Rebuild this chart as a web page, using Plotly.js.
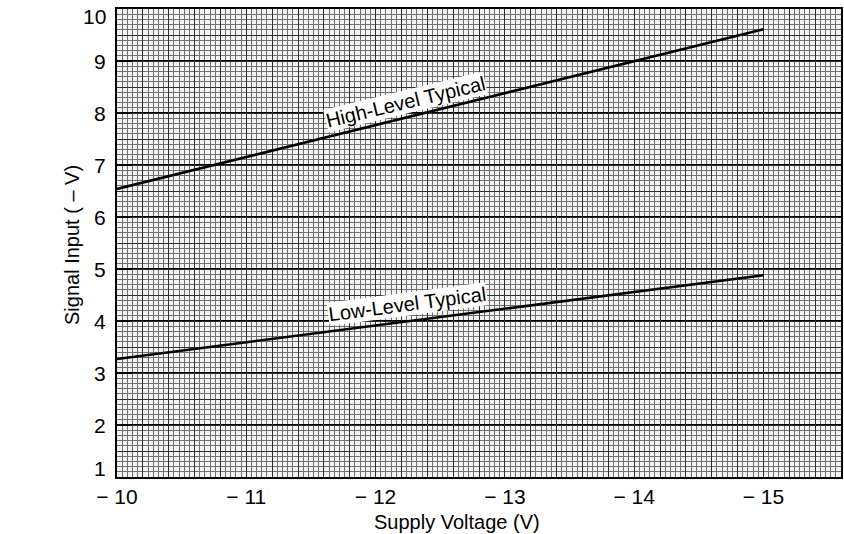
<!DOCTYPE html>
<html>
<head>
<meta charset="utf-8">
<script src="https://cdn.plot.ly/plotly-3.0.1.min.js"></script>
<style>html,body{margin:0;padding:0;background:#fff;}#chart{width:844px;height:534px;}</style>
</head>
<body>
<div id="chart"></div>
<script>
// Data
const supplyVoltage = [-10, -15];
const highLevelTypical = [6.54, 9.61];
const lowLevelTypical = [3.27, 4.88];

const xTickVals = [-10, -11, -12, -13, -14, -15];
const xTickText = ['\u2212 10', '\u2212 11', '\u2212 12', '\u2212 13', '\u2212 14', '\u2212 15'];
const yTickVals = [1, 2, 3, 4, 5, 6, 7, 8, 9, 10];
const yTickText = ['1', '2', '3', '4', '5', '6', '7', '8', '9', '10'];

const seriesLabels = ['High-Level Typical', 'Low-Level Typical'];

const FONT = 'Liberation Sans, Arial, Helvetica, sans-serif';
const xRange = [-10, -15.6];
const yRange = [1, 10];

const traces = [
  {x: supplyVoltage, y: highLevelTypical, mode: 'lines', name: seriesLabels[0],
   line: {color: '#000', width: 2.6}, xaxis: 'x', yaxis: 'y', hoverinfo: 'skip'},
  {x: supplyVoltage, y: lowLevelTypical, mode: 'lines', name: seriesLabels[1],
   line: {color: '#000', width: 2.6}, xaxis: 'x2', yaxis: 'y2', hoverinfo: 'skip'}
];

// inner y tick labels (2..9) on the axis; the end labels (1, 10) sit slightly inward as in the print
const innerY = yTickVals.slice(1, -1);
const innerYText = yTickText.slice(1, -1);

const plotW = 844 - 117 - 3, plotH = 534 - 9 - 57;

const layout = {
  width: 844, height: 534,
  margin: {l: 117, r: 3, t: 9, b: 57},
  paper_bgcolor: '#ffffff',
  plot_bgcolor: '#f2f2f2',
  showlegend: false,
  font: {family: FONT, color: '#000'},
  xaxis: {
    range: xRange, tickvals: xTickVals, ticktext: xTickText,
    tickfont: {family: FONT, size: 21, color: '#000'},
    showgrid: true, gridcolor: '#000', gridwidth: 1.2,
    showline: true, mirror: true, linecolor: '#000', linewidth: 2,
    zeroline: false, ticks: '', fixedrange: true
  },
  yaxis: {
    range: yRange, tickvals: yTickVals, ticktext: yTickVals.map(() => ''),
    tickfont: {family: FONT, size: 21, color: '#000'},
    showgrid: true, gridcolor: '#000', gridwidth: 1.2,
    showline: true, mirror: true, linecolor: '#000', linewidth: 2,
    zeroline: false, ticks: 'inside', ticklen: 15, tickwidth: 2, tickcolor: '#000',
    fixedrange: true
  },
  xaxis2: {
    overlaying: 'x', anchor: 'y2', range: xRange,
    tick0: -10, dtick: 0.2, showticklabels: false, ticks: '',
    showgrid: true, gridcolor: '#2e2e2e', gridwidth: 1,
    minor: {tick0: -10, dtick: 0.04, showgrid: true, gridcolor: '#707070', gridwidth: 1, ticks: ''},
    zeroline: false, showline: false, fixedrange: true
  },
  yaxis2: {
    overlaying: 'y', anchor: 'x2', range: yRange,
    tick0: 1, dtick: 0.5, showticklabels: false, ticks: '',
    showgrid: true, gridcolor: '#2e2e2e', gridwidth: 1,
    minor: {tick0: 1, dtick: 0.1, showgrid: true, gridcolor: '#707070', gridwidth: 1, ticks: ''},
    zeroline: false, showline: false, fixedrange: true
  },
  annotations: [
    {text: seriesLabels[0], xref: 'x', yref: 'y', x: -12.23, y: 8.22, showarrow: false,
     textangle: -13.5, bgcolor: '#ffffff', borderpad: 0,
     font: {family: FONT, size: 20, color: '#000'}},
    {text: seriesLabels[1], xref: 'x', yref: 'y', x: -12.25, y: 4.33, showarrow: false,
     textangle: -7.5, bgcolor: '#ffffff', borderpad: 0,
     font: {family: FONT, size: 20, color: '#000'}},
    {text: 'Supply Voltage (V)', xref: 'paper', yref: 'paper',
     x: (457 - 117) / plotW, y: -(522 - 477) / plotH, xanchor: 'center', yanchor: 'middle',
     showarrow: false, font: {family: FONT, size: 20, color: '#000'}},
    {text: 'Signal Input ( \u2013 V)', xref: 'paper', yref: 'paper',
     x: -(117 - 72) / plotW, y: (477 - 245) / plotH, xanchor: 'center', yanchor: 'middle',
     showarrow: false, textangle: -90, font: {family: FONT, size: 20, color: '#000'}}
  ]
};

// y tick labels 2..9, right-aligned next to the axis
innerY.forEach((v, i) => {
  layout.annotations.push({text: innerYText[i], xref: 'paper', yref: 'y', x: -(117 - 108) / plotW, y: v,
    xanchor: 'right', yanchor: 'middle', showarrow: false, font: {family: FONT, size: 21, color: '#000'}});
});
// end labels, shifted inward like the printed chart
layout.annotations.push({text: yTickText[yTickText.length - 1], xref: 'paper', yref: 'y',
  x: -(117 - 108) / plotW, y: yTickVals[yTickVals.length - 1], yshift: -7,
  xanchor: 'right', yanchor: 'middle', showarrow: false, font: {family: FONT, size: 21, color: '#000'}});
layout.annotations.push({text: yTickText[0], xref: 'paper', yref: 'y',
  x: -(117 - 108) / plotW, y: yTickVals[0], yshift: 9,
  xanchor: 'right', yanchor: 'middle', showarrow: false, font: {family: FONT, size: 21, color: '#000'}});

Plotly.newPlot('chart', traces, layout, {staticPlot: true, displayModeBar: false});
</script>
</body>
</html>
